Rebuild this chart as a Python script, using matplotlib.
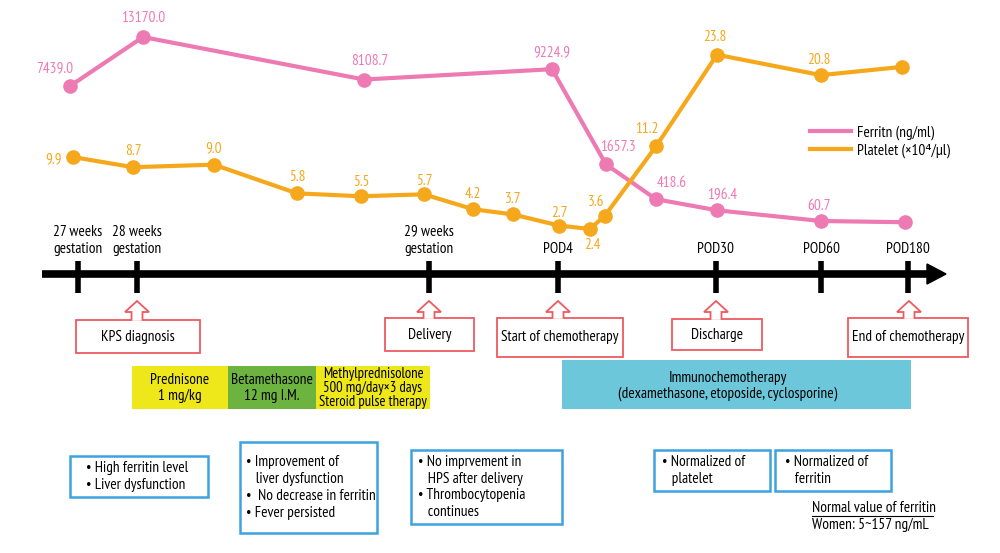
import numpy as np
import matplotlib
matplotlib.use("Agg")
import matplotlib.pyplot as plt
from matplotlib.patches import Rectangle, Polygon
from matplotlib.lines import Line2D

plt.rcParams['font.family'] = ['PT Sans Narrow', 'DejaVu Sans']

# ---- data ----
ferritin_t = [70, 143, 364, 552, 606, 656, 717, 821, 905]
ferritin = [7439.0, 13170.0, 8108.7, 9224.9, 1657.3, 418.6, 196.4, 60.7, 50.0]
ferritin_lbl = ['7439.0', '13170.0', '8108.7', '9224.9', '1657.3', '418.6', '196.4', '60.7', '']

platelet_t = [73, 133, 214, 297, 361, 424, 473, 513, 559, 590, 605, 656, 717, 821, 902]
platelet = [9.9, 8.7, 9.0, 5.8, 5.5, 5.7, 4.2, 3.7, 2.7, 2.4, 3.6, 11.2, 23.8, 20.8, 22.0]
platelet_lbl = ['9.9', '8.7', '9.0', '5.8', '5.5', '5.7', '4.2', '3.7', '2.7', '2.4', '3.6',
                '11.2', '23.8', '20.8', '']

tick_pos = [78, 137, 429, 558, 716, 821, 908]
tick_lbl = ['27 weeks\ngestation', '28 weeks\ngestation', '29 weeks\ngestation',
            'POD4', 'POD30', 'POD60', 'POD180']

events = ['KPS diagnosis', 'Delivery', 'Start of chemotherapy', 'Discharge', 'End of chemotherapy']
event_at = [137, 429, 558, 716, 909]

# label offsets in pixels (dx, dy)
ferr_off = [(-15, 18), (0, 19), (6, 19), (0, 17), (12, 17), (16, 16), (5, 15), (-2, 15), (0, 0)]
plt_off = [(-19, -2), (0, 16), (0, 16), (0, 16), (0, 14), (0, 13), (0, 15), (0, 15), (0, 13),
           (2, -16), (-9, 14), (-9, 17), (-2, 18), (-2, 15), (0, 0)]

PINK = '#EE7AB4'
ORANGE = '#F6A81C'
RED = '#EE5A60'
BLUE = '#3DA2DE'

W, H = 1000, 553
fig = plt.figure(figsize=(10, 5.53), dpi=100)

# base axes in pixel space for the diagram
ax = fig.add_axes([0, 0, 1, 1])
ax.set_xlim(0, W)
ax.set_ylim(H, 0)
ax.axis('off')

# ---- series axes (schematic, power-scaled) ----
f_base = 234.4
axf = fig.add_axes([0, 1 - f_base / H, 1, f_base / H])
axf.set_xlim(0, W)
axf.set_yscale('function', functions=(lambda v: np.sqrt(np.clip(v, 0, None)), lambda v: v ** 2))
axf.set_ylim(0, (f_base / 1.72) ** 2)
axf.axis('off')
axf.patch.set_alpha(0)

p_base = 267.0
axp = fig.add_axes([0, 1 - p_base / H, 1, p_base / H])
axp.set_xlim(0, W)
axp.set_yscale('function', functions=(lambda v: np.clip(v, 0, None) ** 0.75,
                                      lambda v: np.clip(v, 0, None) ** (4 / 3)))
axp.set_ylim(0, (p_base / 19.7) ** (4 / 3))
axp.axis('off')
axp.patch.set_alpha(0)

axf.plot(ferritin_t, ferritin, color=PINK, lw=3, marker='o', ms=9.5)
axp.plot(platelet_t, platelet, color=ORANGE, lw=3, marker='o', ms=9.5)

for x, v, s, (dx, dy) in zip(ferritin_t, ferritin, ferritin_lbl, ferr_off):
    if s:
        axf.annotate(s, (x, v), xytext=(dx, dy), textcoords='offset pixels',
                     ha='center', va='center', color=PINK, fontsize=11)
for x, v, s, (dx, dy) in zip(platelet_t, platelet, platelet_lbl, plt_off):
    if s:
        axp.annotate(s, (x, v), xytext=(dx, dy), textcoords='offset pixels',
                     ha='center', va='center', color=ORANGE, fontsize=11)

fig.legend(handles=[Line2D([], [], color=PINK, lw=3), Line2D([], [], color=ORANGE, lw=3)],
           labels=['Ferritn (ng/ml)', 'Platelet (×10⁴/μl)'],
           loc='upper left', bbox_to_anchor=(810 / W, 1 - 125 / H), frameon=False,
           fontsize=11, handlelength=2.7, handletextpad=0.4, labelspacing=0.25,
           borderaxespad=0, borderpad=0)

# ---- timeline ----
ax.plot([42, 930], [274, 274], color='black', lw=5.5, solid_capstyle='butt', zorder=3)
ax.add_patch(Polygon([(927, 264), (946, 274), (927, 284)], closed=True, color='black', zorder=3))
for x, s in zip(tick_pos, tick_lbl):
    ax.plot([x, x], [261, 293], color='black', lw=4, solid_capstyle='butt', zorder=3)
    ax.text(x, 256, s, ha='center', va='bottom', fontsize=11, linespacing=1.3)

# ---- event boxes with hollow arrows ----
ev_box = [(76, 200, 320, 353), (385, 474, 318, 351), (497, 623, 318, 357),
          (672, 762, 319, 350), (848, 968, 318, 357)]
for s, x, (x0, x1, y0, y1) in zip(events, event_at, ev_box):
    ax.add_patch(Rectangle((x0, y0), x1 - x0, y1 - y0, fill=False, ec=RED, lw=1.3, zorder=4))
    pts = [(x - 5.5, y0 + 0.8), (x - 5.5, 312), (x - 12, 312), (x, 301),
           (x + 12, 312), (x + 5.5, 312), (x + 5.5, y0 + 0.8)]
    ax.add_patch(Polygon(pts, closed=False, fc='white', ec=RED, lw=1.3, zorder=5))
    ax.text((x0 + x1) / 2, (y0 + y1) / 2, s, ha='center', va='center', fontsize=11, zorder=6)

# ---- treatment bars ----
bars = [(132, 228, '#EEE71A', 'Prednisone\n1 mg/kg', 11, 1.2),
        (228, 316, '#6DB33F', 'Betamethasone\n12 mg I.M.', 11, 1.2),
        (316, 430, '#EEE71A', 'Methylprednisolone\n500 mg/day×3 days\nSteroid pulse therapy', 10.5, 0.95)]
for x0, x1, c, s, fs, ls in bars:
    ax.add_patch(Rectangle((x0, 366), x1 - x0, 43, color=c, lw=0))
    ax.text((x0 + x1) / 2, 388, s, ha='center', va='center', fontsize=fs, linespacing=ls)
ax.add_patch(Rectangle((562, 360), 349, 49, color='#6BC7D9', lw=0))
ax.text(728, 386, 'Immunochemotherapy\n(dexamethasone, etoposide, cyclosporine)',
        ha='center', va='center', fontsize=11, linespacing=1.2)

# ---- findings boxes ----
notes = [(70, 208, 456, 497, 16, '• High ferritin level\n• Liver dysfunction'),
         (240, 377, 442, 533, 6, '• Improvement of\n   liver dysfunction\n•  No decrease in ferritin\n• Fever persisted'),
         (411, 562, 450, 524, 7, '• No imprvement in\n   HPS after delivery\n• Thrombocytopenia\n   continues'),
         (654, 770, 450, 491, 8, '• Normalized of\n   platelet'),
         (775, 891, 450, 491, 10, '• Normalized of\n   ferritin')]
for x0, x1, y0, y1, pad, s in notes:
    ax.add_patch(Rectangle((x0, y0), x1 - x0, y1 - y0, fill=False, ec=BLUE, lw=1.8))
    ax.text(x0 + pad, (y0 + y1) / 2, s, ha='left', va='center', fontsize=11, linespacing=1.25)

ax.text(812, 508, 'Normal value of ferritin', ha='left', va='center', fontsize=11)
ax.plot([812, 933], [516, 516], color='black', lw=0.8)
ax.text(812, 525, 'Women: 5~157 ng/mL', ha='left', va='center', fontsize=11)

fig.savefig('out.png', dpi=100)
